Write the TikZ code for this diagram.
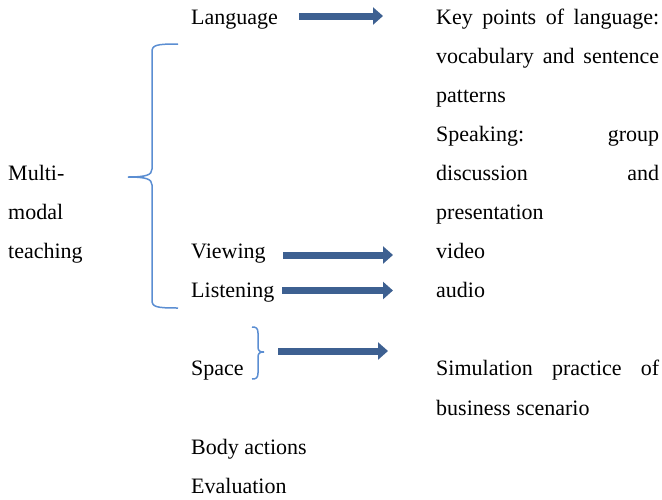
\documentclass[tikz,border=0pt]{standalone}
\usepackage{fontspec}
\setmainfont{Liberation Serif}
\usetikzlibrary{arrows.meta}
\definecolor{arrowblue}{RGB}{61,96,145}
\definecolor{braceblue}{RGB}{91,142,210}
\newcommand{\jline}[1]{\makebox[223pt][s]{#1}}
\begin{document}
\begin{tikzpicture}[x=1pt,y=-1pt,
  txt/.style={anchor=base west,inner sep=0pt,font=\fontsize{22}{26}\selectfont},
  blockarrow/.style={line width=7pt,arrowblue,-{Triangle[length=10pt,width=17pt]}},
  curly/.style={braceblue,line width=1.5pt}]
\useasboundingbox (0,0) rectangle (662,499);

% left column
\node[txt] (multi) at (8,180.4) {Multi-};
\node[txt] (modal) at (8,219.5) {modal};
\node[txt] (teach) at (8,258.6) {teaching};

% middle column
\node[txt] (lang)   at (191,24)    {Language};
\node[txt] (view)   at (191,258.6) {Viewing};
\node[txt] (listen) at (191,297.7) {Listening};
\node[txt] (space)  at (191,375.9) {Space};
\node[txt] (body)   at (191,454.1) {Body actions};
\node[txt] (eval)   at (191,493.2) {Evaluation};

% right column
\node[txt] (kp1)    at (436,24)    {\jline{Key points of language:}};
\node[txt] (kp2)    at (436,63.1)  {\jline{vocabulary and sentence}};
\node[txt] (kp3)    at (436,102.2) {patterns};
\node[txt] (speak1) at (436,141.3) {\jline{Speaking:\hfill group}};
\node[txt] (speak2) at (436,180.4) {\jline{discussion\hfill and}};
\node[txt] (speak3) at (436,219.5) {presentation};
\node[txt] (video)  at (436,258.6) {video};
\node[txt] (audio)  at (436,297.7) {audio};
\node[txt] (sim1)   at (436,375.9) {\jline{Simulation practice of}};
\node[txt] (sim2)   at (436,415)   {business scenario};

% arrows
\coordinate (lang-a)   at (299,16);
\coordinate (lang-b)   at (383,16);
\coordinate (view-a)   at (283,255);
\coordinate (view-b)   at (393,255);
\coordinate (listen-a) at (282,290.5);
\coordinate (listen-b) at (393,290.5);
\coordinate (space-a)  at (278,351);
\coordinate (space-b)  at (388,351);
\draw[blockarrow] (lang-a) -- (lang-b);
\draw[blockarrow] (view-a) -- (view-b);
\draw[blockarrow] (listen-a) -- (listen-b);
\draw[blockarrow] (space-a) -- (space-b);

% braces
\draw[curly] (178,44) .. controls (156,44) and (152,45) .. (152,52) -- (152,169)
  .. controls (152,175) and (146,177) .. (128,177)
  .. controls (146,177) and (152,179) .. (152,185) -- (152,300)
  .. controls (152,307) and (156,308) .. (178,308);
\draw[curly] (252,327) .. controls (256,327) and (258,328) .. (258,333) -- (258,347)
  .. controls (258,351) and (260,352) .. (264,352)
  .. controls (260,352) and (258,353) .. (258,357) -- (258,373)
  .. controls (258,378) and (256,379) .. (252,379);
\end{tikzpicture}
\end{document}
